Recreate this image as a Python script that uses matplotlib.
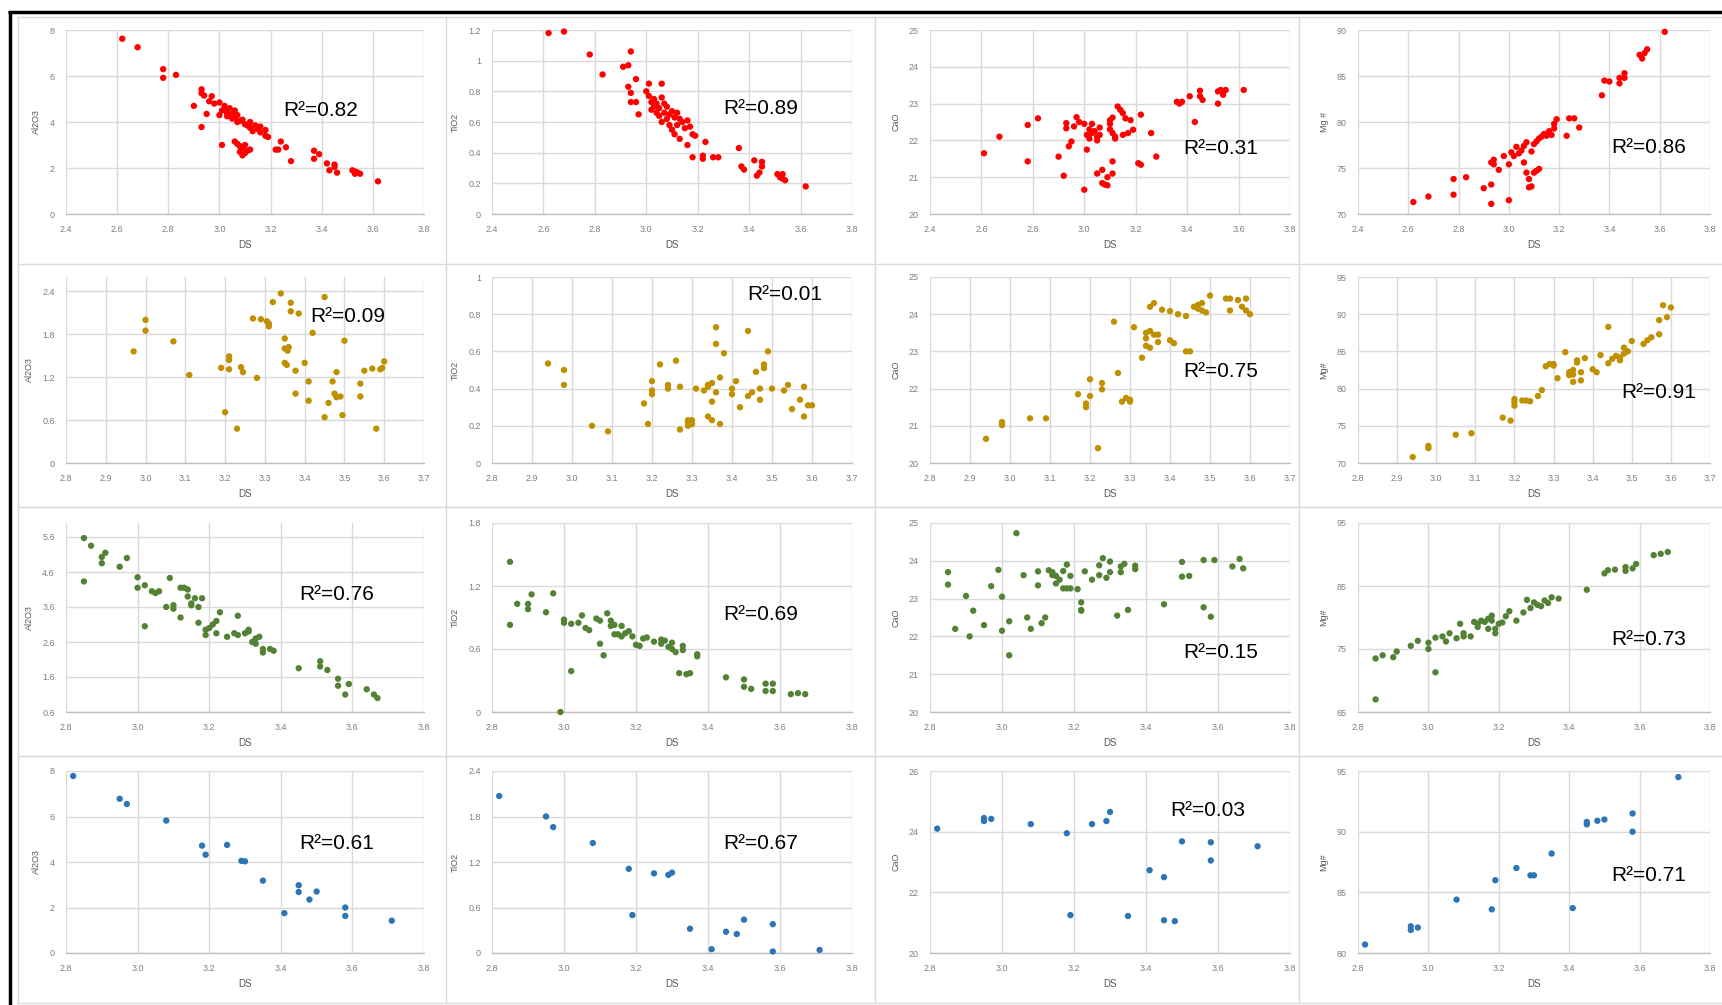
import matplotlib
matplotlib.use("Agg")
import matplotlib.pyplot as plt
from matplotlib.lines import Line2D
from matplotlib.ticker import FuncFormatter

# ---------------------------------------------------------------------------
# Data: (DS, oxide) pairs for each group of samples
# ---------------------------------------------------------------------------

# Group 1 (red)
red_al2o3 = [(2.62, 7.62), (2.68, 7.25), (2.78, 6.30), (2.78, 5.92), (2.83, 6.05),
             (2.90, 4.70), (2.93, 5.42), (2.93, 5.25), (2.94, 5.15), (2.95, 4.35),
             (2.93, 3.78), (2.96, 4.90), (2.97, 5.12), (2.98, 4.80), (3.00, 4.85),
             (3.00, 4.30), (3.01, 4.50), (3.02, 4.70), (3.02, 4.55), (3.03, 4.40),
             (3.03, 4.25), (3.04, 4.60), (3.05, 4.35), (3.05, 4.15), (3.06, 4.50),
             (3.06, 4.20), (3.07, 4.30), (3.07, 4.00), (3.08, 4.05), (3.09, 4.10),
             (3.10, 3.90), (3.11, 3.85), (3.12, 4.00), (3.12, 3.75), (3.13, 3.60),
             (3.14, 3.85), (3.15, 3.70), (3.16, 3.80), (3.16, 3.55), (3.18, 3.65),
             (3.18, 3.40), (3.19, 3.35), (3.01, 3.00), (3.06, 3.15), (3.07, 3.05),
             (3.08, 2.95), (3.08, 2.70), (3.09, 2.55), (3.09, 2.85), (3.10, 2.65),
             (3.11, 2.75), (3.12, 2.80), (3.10, 3.00), (3.22, 2.80), (3.23, 2.80),
             (3.24, 3.15), (3.26, 2.90), (3.28, 2.30), (3.37, 2.40), (3.37, 2.75),
             (3.39, 2.60), (3.42, 2.20), (3.43, 1.90), (3.45, 2.15), (3.45, 2.05),
             (3.46, 1.80), (3.52, 1.90), (3.53, 1.85), (3.53, 1.75), (3.54, 1.80),
             (3.55, 1.75), (3.62, 1.42)]

red_tio2 = [(2.62, 1.18), (2.68, 1.19), (2.78, 1.04), (2.83, 0.91), (2.91, 0.96),
            (2.93, 0.97), (2.94, 1.06), (2.96, 0.88), (2.93, 0.83), (2.94, 0.79),
            (2.94, 0.73), (2.96, 0.73), (2.97, 0.65), (3.00, 0.80), (3.01, 0.85),
            (3.01, 0.77), (3.02, 0.73), (3.02, 0.68), (3.03, 0.75), (3.03, 0.70),
            (3.04, 0.66), (3.04, 0.72), (3.05, 0.69), (3.05, 0.64), (3.06, 0.85),
            (3.06, 0.60), (3.06, 0.76), (3.07, 0.72), (3.07, 0.66), (3.08, 0.62),
            (3.08, 0.70), (3.09, 0.65), (3.09, 0.58), (3.10, 0.67), (3.10, 0.55),
            (3.11, 0.63), (3.11, 0.52), (3.12, 0.66), (3.12, 0.58), (3.13, 0.49),
            (3.13, 0.62), (3.14, 0.60), (3.15, 0.56), (3.16, 0.61), (3.16, 0.45),
            (3.17, 0.57), (3.18, 0.52), (3.19, 0.51), (3.18, 0.37), (3.22, 0.36),
            (3.22, 0.38), (3.23, 0.47), (3.26, 0.37), (3.28, 0.37), (3.36, 0.43),
            (3.37, 0.31), (3.38, 0.29), (3.42, 0.35), (3.43, 0.25), (3.44, 0.27),
            (3.45, 0.34), (3.45, 0.31), (3.51, 0.26), (3.52, 0.24), (3.53, 0.26),
            (3.53, 0.23), (3.54, 0.22), (3.62, 0.18)]

red_cao = [(2.61, 21.65), (2.67, 22.10), (2.78, 22.42), (2.78, 21.43), (2.82, 22.60),
           (2.90, 21.56), (2.92, 21.04), (2.93, 22.47), (2.93, 22.33), (2.94, 21.84),
           (2.95, 21.97), (2.96, 22.38), (2.97, 22.63), (2.98, 22.50), (3.00, 20.66),
           (3.00, 22.45), (3.01, 22.15), (3.01, 21.75), (3.02, 22.30), (3.02, 22.05),
           (3.03, 22.20), (3.03, 22.45), (3.04, 22.25), (3.05, 22.10), (3.05, 22.00),
           (3.06, 22.35), (3.06, 22.15), (3.05, 21.10), (3.07, 21.20), (3.07, 20.84),
           (3.08, 20.80), (3.09, 20.78), (3.09, 21.00), (3.10, 22.55), (3.10, 22.30),
           (3.10, 22.45), (3.11, 22.20), (3.11, 22.62), (3.11, 21.43), (3.11, 21.10),
           (3.12, 22.05), (3.12, 22.10), (3.13, 22.92), (3.14, 22.83), (3.15, 22.74),
           (3.15, 22.15), (3.16, 22.60), (3.17, 22.20), (3.18, 22.55), (3.19, 22.29),
           (3.22, 22.70), (3.21, 21.38), (3.22, 21.34), (3.26, 22.20), (3.28, 21.56),
           (3.36, 23.05), (3.37, 23.00), (3.38, 23.05), (3.41, 23.20), (3.43, 22.50),
           (3.45, 23.35), (3.45, 23.20), (3.46, 23.10), (3.52, 23.00), (3.52, 23.33),
           (3.53, 23.37), (3.54, 23.24), (3.55, 23.37), (3.62, 23.37)]

red_mg = [(2.62, 71.3), (2.68, 71.9), (2.78, 73.8), (2.78, 72.1), (2.83, 74.0),
          (2.90, 72.8), (2.93, 71.1), (2.93, 73.2), (2.93, 75.6), (2.94, 75.9),
          (2.94, 75.4), (2.96, 74.8), (2.98, 76.3), (3.00, 75.4), (3.00, 71.5),
          (3.01, 76.7), (3.02, 76.3), (3.03, 77.3), (3.04, 76.6), (3.05, 76.9),
          (3.06, 77.4), (3.06, 75.6), (3.07, 77.8), (3.07, 74.5), (3.08, 73.8),
          (3.08, 72.9), (3.09, 73.0), (3.09, 76.8), (3.10, 74.5), (3.10, 77.6),
          (3.11, 74.7), (3.11, 77.9), (3.12, 74.9), (3.12, 78.2), (3.13, 78.4),
          (3.14, 78.7), (3.15, 78.5), (3.16, 79.0), (3.17, 78.6), (3.18, 79.3),
          (3.18, 79.8), (3.19, 80.3), (3.23, 78.5), (3.24, 80.4), (3.26, 80.4),
          (3.28, 79.4), (3.37, 82.9), (3.38, 84.5), (3.40, 84.4), (3.44, 84.8),
          (3.44, 84.2), (3.46, 85.3), (3.46, 84.8), (3.52, 87.3), (3.53, 86.9),
          (3.54, 87.5), (3.55, 87.9), (3.62, 89.8)]

# Group 2 (gold)
gold_al2o3 = [(2.97, 1.56), (3.00, 1.85), (3.00, 2.00), (3.07, 1.70), (3.11, 1.23),
              (3.19, 1.33), (3.21, 1.49), (3.21, 1.44), (3.21, 1.31), (3.20, 0.71),
              (3.23, 0.48), (3.24, 1.34), (3.245, 1.27), (3.27, 2.02), (3.28, 1.19),
              (3.29, 2.01), (3.305, 1.98), (3.31, 1.91), (3.31, 1.95), (3.32, 2.25),
              (3.34, 2.37), (3.35, 1.74), (3.35, 1.60), (3.357, 1.57), (3.36, 1.62),
              (3.35, 1.40), (3.355, 1.37), (3.365, 2.24), (3.365, 2.12), (3.377, 1.29),
              (3.377, 0.97), (3.385, 2.09), (3.40, 1.40), (3.41, 1.14), (3.41, 0.87),
              (3.42, 1.82), (3.45, 2.32), (3.45, 0.64), (3.46, 0.84), (3.47, 1.14),
              (3.475, 0.97), (3.48, 1.27), (3.48, 0.92), (3.49, 0.93), (3.495, 0.67),
              (3.50, 1.71), (3.54, 1.11), (3.54, 0.93), (3.55, 1.29), (3.57, 1.32),
              (3.58, 0.48), (3.59, 1.31), (3.595, 1.33), (3.60, 1.42)]

gold_tio2 = [(2.94, 0.535), (2.98, 0.50), (2.98, 0.42), (3.05, 0.20), (3.09, 0.17),
             (3.18, 0.32), (3.19, 0.21), (3.20, 0.37), (3.20, 0.39), (3.20, 0.44),
             (3.22, 0.53), (3.24, 0.40), (3.24, 0.42), (3.26, 0.55), (3.27, 0.41),
             (3.27, 0.18), (3.29, 0.20), (3.29, 0.22), (3.29, 0.23), (3.30, 0.21),
             (3.30, 0.23), (3.31, 0.40), (3.33, 0.39), (3.34, 0.41), (3.34, 0.42),
             (3.34, 0.25), (3.35, 0.33), (3.35, 0.23), (3.35, 0.43), (3.36, 0.38),
             (3.36, 0.64), (3.36, 0.73), (3.37, 0.46), (3.37, 0.21), (3.38, 0.59),
             (3.40, 0.40), (3.40, 0.37), (3.41, 0.44), (3.42, 0.30), (3.44, 0.36),
             (3.44, 0.71), (3.45, 0.38), (3.46, 0.49), (3.47, 0.34), (3.47, 0.40),
             (3.48, 0.51), (3.48, 0.53), (3.49, 0.60), (3.50, 0.40), (3.53, 0.39),
             (3.54, 0.42), (3.55, 0.29), (3.57, 0.34), (3.58, 0.41), (3.58, 0.25),
             (3.59, 0.31), (3.60, 0.31)]

gold_cao = [(2.94, 20.65), (2.98, 21.10), (2.98, 21.02), (3.05, 21.20), (3.09, 21.20),
            (3.17, 21.85), (3.19, 21.60), (3.19, 21.50), (3.20, 22.25), (3.20, 21.80),
            (3.22, 20.40), (3.23, 22.15), (3.23, 21.98), (3.26, 23.80), (3.27, 22.42),
            (3.28, 21.65), (3.29, 21.75), (3.30, 21.70), (3.30, 21.65), (3.31, 23.65),
            (3.33, 22.83), (3.34, 23.35), (3.34, 23.15), (3.34, 23.50), (3.35, 23.10),
            (3.35, 23.55), (3.35, 24.20), (3.36, 24.30), (3.36, 23.45), (3.37, 23.45),
            (3.37, 23.25), (3.38, 24.12), (3.40, 24.08), (3.40, 23.30), (3.41, 23.22),
            (3.42, 24.00), (3.44, 23.95), (3.44, 23.00), (3.45, 23.00), (3.46, 24.20),
            (3.47, 24.25), (3.47, 24.15), (3.48, 24.30), (3.48, 24.10), (3.49, 24.05),
            (3.50, 24.50), (3.54, 24.42), (3.55, 24.42), (3.55, 24.10), (3.57, 24.38),
            (3.58, 24.20), (3.59, 24.10), (3.59, 24.42), (3.60, 24.00)]

gold_mg = [(2.94, 70.8), (2.98, 72.0), (2.98, 72.3), (3.05, 73.8), (3.09, 74.0),
           (3.17, 76.1), (3.19, 75.7), (3.20, 77.7), (3.20, 78.2), (3.20, 78.6),
           (3.22, 78.4), (3.23, 78.4), (3.24, 78.3), (3.26, 79.0), (3.27, 79.8),
           (3.28, 83.0), (3.29, 83.3), (3.30, 83.3), (3.30, 83.1), (3.31, 81.4),
           (3.33, 84.9), (3.34, 82.2), (3.34, 81.8), (3.35, 81.9), (3.35, 80.9),
           (3.35, 82.5), (3.36, 83.5), (3.36, 83.8), (3.37, 82.2), (3.37, 81.1),
           (3.38, 84.1), (3.40, 82.6), (3.41, 82.2), (3.42, 84.5), (3.44, 88.3),
           (3.44, 83.4), (3.45, 84.0), (3.46, 84.4), (3.47, 83.8), (3.47, 84.2),
           (3.48, 85.5), (3.48, 84.7), (3.49, 85.0), (3.50, 86.4), (3.53, 86.0),
           (3.54, 86.5), (3.55, 86.9), (3.57, 89.2), (3.57, 87.3), (3.58, 91.2),
           (3.59, 89.6), (3.60, 90.9)]

# Group 3 (green)
green_al2o3 = [(2.85, 5.57), (2.85, 4.33), (2.87, 5.35), (2.90, 5.03), (2.90, 4.85),
               (2.91, 5.15), (2.95, 4.75), (2.97, 5.00), (3.00, 4.45), (3.00, 4.15),
               (3.02, 4.22), (3.02, 3.05), (3.04, 4.05), (3.05, 4.00), (3.06, 4.05),
               (3.08, 3.60), (3.09, 4.43), (3.10, 3.65), (3.10, 3.55), (3.12, 3.30),
               (3.12, 4.15), (3.13, 4.15), (3.14, 3.90), (3.14, 4.10), (3.15, 3.65),
               (3.15, 3.70), (3.16, 3.85), (3.17, 3.60), (3.17, 3.15), (3.18, 3.85),
               (3.19, 2.95), (3.19, 2.80), (3.20, 3.00), (3.21, 3.10), (3.22, 3.20),
               (3.22, 2.85), (3.23, 3.45), (3.25, 2.75), (3.27, 2.85), (3.28, 2.80),
               (3.28, 3.35), (3.30, 2.85), (3.31, 2.95), (3.31, 2.90), (3.32, 2.60),
               (3.33, 2.70), (3.33, 2.55), (3.34, 2.75), (3.35, 2.40), (3.35, 2.30),
               (3.37, 2.40), (3.38, 2.35), (3.45, 1.85), (3.51, 1.90), (3.51, 2.05),
               (3.53, 1.80), (3.56, 1.55), (3.56, 1.35), (3.58, 1.10), (3.59, 1.40),
               (3.64, 1.25), (3.66, 1.10), (3.67, 1.00)]

green_tio2 = [(2.85, 1.43), (2.85, 0.83), (2.87, 1.03), (2.90, 0.98), (2.90, 1.03),
              (2.91, 1.12), (2.95, 0.95), (2.97, 1.13), (2.99, 0.00), (3.00, 0.88),
              (3.00, 0.85), (3.02, 0.84), (3.02, 0.39), (3.04, 0.85), (3.05, 0.92),
              (3.06, 0.80), (3.07, 0.78), (3.09, 0.89), (3.10, 0.87), (3.10, 0.65),
              (3.11, 0.54), (3.12, 0.94), (3.13, 0.87), (3.13, 0.82), (3.14, 0.83),
              (3.14, 0.74), (3.15, 0.74), (3.16, 0.82), (3.16, 0.72), (3.17, 0.75),
              (3.18, 0.77), (3.19, 0.72), (3.20, 0.64), (3.21, 0.63), (3.22, 0.70),
              (3.23, 0.71), (3.25, 0.67), (3.27, 0.69), (3.27, 0.65), (3.28, 0.68),
              (3.29, 0.62), (3.30, 0.66), (3.30, 0.60), (3.31, 0.57), (3.32, 0.37),
              (3.33, 0.63), (3.33, 0.59), (3.34, 0.36), (3.35, 0.37), (3.37, 0.55),
              (3.37, 0.53), (3.45, 0.33), (3.50, 0.31), (3.50, 0.24), (3.52, 0.22),
              (3.56, 0.27), (3.56, 0.20), (3.58, 0.27), (3.58, 0.20), (3.63, 0.17),
              (3.65, 0.18), (3.67, 0.17)]

green_cao = [(2.85, 23.70), (2.85, 23.37), (2.87, 22.20), (2.90, 23.07), (2.91, 22.00),
             (2.92, 22.68), (2.95, 22.30), (2.97, 23.33), (2.99, 23.76), (3.00, 22.15),
             (3.00, 23.05), (3.02, 21.50), (3.02, 22.40), (3.04, 24.73), (3.06, 23.62),
             (3.07, 22.50), (3.08, 22.20), (3.10, 23.72), (3.10, 23.35), (3.11, 22.35),
             (3.12, 22.50), (3.13, 23.75), (3.14, 23.70), (3.14, 23.62), (3.15, 23.60),
             (3.15, 23.40), (3.16, 23.50), (3.17, 23.73), (3.17, 23.27), (3.18, 23.27),
             (3.18, 23.90), (3.19, 23.60), (3.19, 23.27), (3.21, 23.25), (3.22, 22.90),
             (3.22, 22.70), (3.22, 22.68), (3.23, 23.72), (3.25, 23.50), (3.27, 23.88),
             (3.27, 23.62), (3.28, 24.07), (3.29, 23.55), (3.30, 23.98), (3.30, 23.70),
             (3.32, 22.55), (3.33, 23.85), (3.33, 23.70), (3.34, 23.92), (3.35, 22.70),
             (3.37, 23.78), (3.37, 23.87), (3.45, 22.85), (3.50, 23.97), (3.50, 23.58),
             (3.52, 23.60), (3.56, 24.02), (3.56, 22.77), (3.58, 22.52), (3.59, 24.02),
             (3.64, 23.85), (3.66, 24.05), (3.67, 23.80)]

green_mg = [(2.85, 67.0), (2.85, 73.5), (2.87, 74.0), (2.90, 73.7), (2.91, 74.6),
            (2.95, 75.5), (2.97, 76.3), (3.00, 75.0), (3.00, 76.0), (3.02, 71.3),
            (3.02, 76.8), (3.04, 77.0), (3.05, 76.2), (3.06, 77.5), (3.08, 76.7),
            (3.09, 79.0), (3.10, 77.0), (3.10, 77.5), (3.12, 77.0), (3.13, 79.3),
            (3.14, 78.5), (3.14, 79.0), (3.15, 79.5), (3.16, 79.3), (3.17, 79.8),
            (3.17, 78.2), (3.18, 79.5), (3.18, 80.3), (3.19, 77.5), (3.19, 78.2),
            (3.20, 79.0), (3.21, 79.2), (3.22, 80.2), (3.23, 81.0), (3.25, 79.5),
            (3.27, 80.8), (3.28, 82.8), (3.29, 81.5), (3.30, 82.4), (3.31, 82.0),
            (3.32, 81.8), (3.33, 82.7), (3.34, 82.3), (3.35, 83.2), (3.37, 83.0),
            (3.45, 84.4), (3.50, 87.0), (3.51, 87.5), (3.53, 87.6), (3.56, 87.4),
            (3.56, 88.0), (3.58, 87.8), (3.59, 88.5), (3.64, 89.9), (3.66, 90.1),
            (3.68, 90.4)]

# Group 4 (blue)
blue_al2o3 = [(2.82, 7.78), (2.95, 6.78), (2.97, 6.55), (3.08, 5.82), (3.18, 4.72),
              (3.19, 4.32), (3.25, 4.75), (3.29, 4.05), (3.30, 4.03), (3.35, 3.18),
              (3.41, 1.75), (3.45, 2.98), (3.45, 2.68), (3.48, 2.35), (3.50, 2.70),
              (3.58, 2.00), (3.58, 1.63), (3.71, 1.42)]

blue_tio2 = [(2.82, 2.07), (2.95, 1.80), (2.97, 1.66), (3.08, 1.45), (3.18, 1.11),
             (3.19, 0.50), (3.25, 1.05), (3.29, 1.03), (3.30, 1.06), (3.35, 0.32),
             (3.41, 0.05), (3.45, 0.28), (3.48, 0.25), (3.50, 0.44), (3.58, 0.38),
             (3.58, 0.02), (3.71, 0.04)]

blue_cao = [(2.82, 24.10), (2.95, 24.45), (2.95, 24.35), (2.97, 24.42), (3.08, 24.25),
            (3.18, 23.95), (3.19, 21.25), (3.25, 24.25), (3.29, 24.35), (3.30, 24.65),
            (3.35, 21.22), (3.41, 22.73), (3.45, 22.50), (3.45, 21.08), (3.48, 21.05),
            (3.50, 23.68), (3.58, 23.65), (3.58, 23.05), (3.71, 23.52)]

blue_mg = [(2.82, 80.7), (2.95, 82.2), (2.95, 81.9), (2.97, 82.1), (3.08, 84.4),
           (3.18, 83.6), (3.19, 86.0), (3.25, 87.0), (3.29, 86.4), (3.30, 86.4),
           (3.35, 88.2), (3.41, 83.7), (3.45, 90.6), (3.45, 90.8), (3.48, 90.9),
           (3.50, 91.0), (3.58, 91.5), (3.58, 90.0), (3.71, 94.5)]

# Coefficients of determination, one row per group
r2_values = [["0.82", "0.89", "0.31", "0.86"],
             ["0.09", "0.01", "0.75", "0.91"],
             ["0.76", "0.69", "0.15", "0.73"],
             ["0.61", "0.67", "0.03", "0.71"]]

# Axis tick values
x_ticks = [[2.4, 2.6, 2.8, 3.0, 3.2, 3.4, 3.6, 3.8],
           [2.8, 2.9, 3.0, 3.1, 3.2, 3.3, 3.4, 3.5, 3.6, 3.7],
           [2.8, 3.0, 3.2, 3.4, 3.6, 3.8],
           [2.8, 3.0, 3.2, 3.4, 3.6, 3.8]]
y_ticks = [[[0, 2, 4, 6, 8], [0, 0.2, 0.4, 0.6, 0.8, 1.0, 1.2],
            [20, 21, 22, 23, 24, 25], [70, 75, 80, 85, 90]],
           [[0, 0.6, 1.2, 1.8, 2.4], [0, 0.2, 0.4, 0.6, 0.8, 1.0],
            [20, 21, 22, 23, 24, 25], [70, 75, 80, 85, 90, 95]],
           [[0.6, 1.6, 2.6, 3.6, 4.6, 5.6], [0, 0.6, 1.2, 1.8],
            [20, 21, 22, 23, 24, 25], [65, 75, 85, 95]],
           [[0, 2, 4, 6, 8], [0, 0.6, 1.2, 1.8, 2.4],
            [20, 22, 24, 26], [80, 85, 90, 95]]]
# Upper y limits that sit above the last labelled tick
y_top_override = {(1, 0): 2.6, (2, 0): 6.0}

y_labels = [["Al2O3", "TiO2", "CaO", "Mg #"],
            ["Al2O3", "TiO2", "CaO", "Mg#"],
            ["Al2O3", "TiO2", "CaO", "Mg#"],
            ["Al2O3", "TiO2", "CaO", "Mg#"]]

series = [[red_al2o3, red_tio2, red_cao, red_mg],
          [gold_al2o3, gold_tio2, gold_cao, gold_mg],
          [green_al2o3, green_tio2, green_cao, green_mg],
          [blue_al2o3, blue_tio2, blue_cao, blue_mg]]

# ---------------------------------------------------------------------------
# Layout and style (pixel geometry of a 1722 x 1005 canvas)
# ---------------------------------------------------------------------------
W, H = 1722, 1005
row_colors = ["#FF0000", "#BF9000", "#548235", "#2E75B6"]
col_px = [(66, 424), (492, 852), (930, 1290), (1358, 1710)]
row_px = [(30, 214), (277, 463), (523, 712), (771, 953)]
r2_px = [[(283, 110), (723, 108), (1183, 149), (1611, 147)],
         [(310, 317), (747, 294), (1183, 371), (1621, 393)],
         [(299, 595), (723, 615), (1183, 653), (1611, 639)],
         [(299, 843), (723, 843), (1170, 811), (1611, 875)]]

GRID = "#D9D9D9"
TICK = "#7F7F7F"
FONT = ["Liberation Sans", "DejaVu Sans"]

plt.rcParams["font.family"] = FONT

fig = plt.figure(figsize=(W / 100, H / 100), dpi=100)
fig.patch.set_facecolor("white")


def fx(px):
    return px / W


def fy(py):
    return 1 - py / H


ytick_fmt = FuncFormatter(lambda v, _: f"{v:g}")
xtick_fmt = FuncFormatter(lambda v, _: f"{v:.1f}")

for r in range(4):
    for c in range(4):
        x0, x1 = col_px[c]
        y0, y1 = row_px[r]
        ax = fig.add_axes([fx(x0), fy(y1), (x1 - x0) / W, (y1 - y0) / H])
        pts = series[r][c]
        xs = [p[0] for p in pts]
        ys = [p[1] for p in pts]
        ax.scatter(xs, ys, s=21, color=row_colors[r], edgecolors="none",
                   zorder=3, clip_on=False)

        xt = x_ticks[r]
        yt = y_ticks[r][c]
        ax.set_xlim(xt[0], xt[-1])
        ax.set_ylim(yt[0], y_top_override.get((r, c), yt[-1]))
        ax.set_xticks(xt)
        ax.set_yticks(yt)
        ax.xaxis.set_major_formatter(xtick_fmt)
        ax.yaxis.set_major_formatter(ytick_fmt)
        ax.grid(True, color=GRID, linewidth=1.0, zorder=0)
        ax.set_axisbelow(True)
        for side in ("top", "right", "left"):
            ax.spines[side].set_visible(False)
        ax.spines["bottom"].set_color("#BFBFBF")
        ax.spines["bottom"].set_linewidth(1.0)
        ax.tick_params(length=0, labelsize=6.5, labelcolor=TICK, pad=8)
        ax.set_xlabel("DS", fontsize=7, color="#595959", labelpad=4)
        ax.set_ylabel(y_labels[r][c], fontsize=6.5, color="#595959", labelpad=6)
        ax.patch.set_alpha(0)

        tx, ty = r2_px[r][c]
        fig.text(fx(tx), fy(ty), "R\u00b2=" + r2_values[r][c], fontsize=15,
                 color="black", ha="left", va="center")

# Panel frames
frame_kw = dict(transform=fig.transFigure, color="#D9D9D9", linewidth=1.0)
for vx in (18, 446, 875, 1299):
    fig.add_artist(Line2D([fx(vx), fx(vx)], [fy(17), fy(1003)], **frame_kw))
for hy in (17, 264, 507, 756, 1003):
    fig.add_artist(Line2D([fx(18), fx(W)], [fy(hy), fy(hy)], **frame_kw))

# Outer black border (top and left)
border_kw = dict(transform=fig.transFigure, color="black", linewidth=2.5,
                 solid_capstyle="butt")
fig.add_artist(Line2D([fx(8), fx(W)], [fy(12), fy(12)], **border_kw))
fig.add_artist(Line2D([fx(9.5), fx(9.5)], [fy(11), fy(H)], **border_kw))

fig.savefig("out.png", dpi=100, facecolor="white")
